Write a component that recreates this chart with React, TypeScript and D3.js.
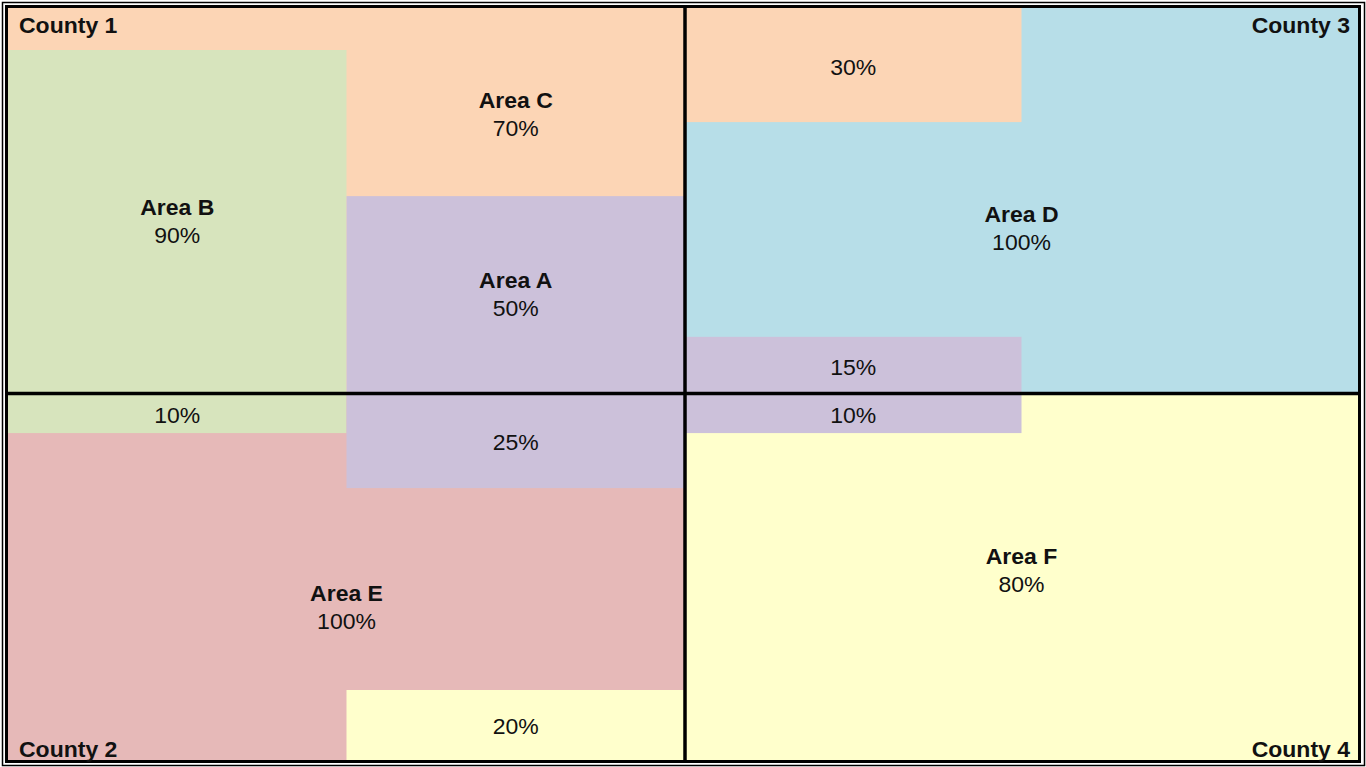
import React from "react";
import * as d3 from "d3";

// areas and their colours
const areaNames = ["Area A", "Area B", "Area C", "Area D", "Area E", "Area F"];
const areaColors = ["#CCC1DA", "#D7E4BD", "#FCD5B5", "#B7DEE8", "#E6B9B8", "#FFFFCC"];

// counties: quadrant order TL, BL, TR, BR
const countyNames = ["County 1", "County 2", "County 3", "County 4"];
const countyFill = ["Area C", "Area E", "Area D", "Area F"];

// stacked pieces inside a county (column 0 = left half, 1 = right half)
const segCounty = [0, 0, 1, 1, 1, 2, 2, 3];
const segColumn = [0, 1, 0, 1, 1, 0, 0, 0];
const segArea = ["Area B", "Area A", "Area B", "Area A", "Area F", "Area C", "Area A", "Area A"];
const segEdge = ["bottom", "bottom", "top", "top", "bottom", "top", "bottom", "top"];
const segShare = [0.891, 0.512, 0.108, 0.258, 0.191, 0.296, 0.147, 0.108];
const segPct = [90, 50, 10, 25, 20, 30, 15, 10];

// the named label of each area (county where it is shown + its share)
const namedArea = ["Area A", "Area B", "Area C", "Area D", "Area E", "Area F"];
const namedCounty = [0, 0, 0, 2, 1, 3];
const namedPct = [50, 90, 70, 100, 100, 80];

const W = 1366;
const H = 767;
const FS = 21.5;
const SX = 1.07;

export default function App() {
  const left = 8, right = 1358, top = 8, bottom = 760;
  const midX = 685, midY = 393.5;

  const quads = countyNames.map((name, i) => {
    const col = i < 2 ? 0 : 1;
    const row = i % 2;
    const x = d3.scaleLinear().domain([0, 1]).range(col === 0 ? [left, midX] : [midX, right]);
    const y = d3.scaleLinear().domain([0, 1]).range(row === 0 ? [top, midY] : [midY, bottom]);
    return { name, col, row, x, y };
  });

  const color = d3.scaleOrdinal<string, string>().domain(areaNames).range(areaColors);

  const segs = segCounty.map((c, i) => {
    const q = quads[c];
    const x0 = q.x(segColumn[i] * 0.5);
    const x1 = q.x(segColumn[i] * 0.5 + 0.5);
    const y0 = segEdge[i] === "top" ? q.y(0) : q.y(1 - segShare[i]);
    const y1 = segEdge[i] === "top" ? q.y(segShare[i]) : q.y(1);
    return { x0, x1, y0, y1, area: segArea[i], pct: segPct[i], county: c };
  });

  // label anchors for areas that fill the rest of a county
  const fillAnchor: Record<string, [number, number]> = {
    "Area C": [0.75, 0.276],
    "Area D": [0.5, 0.573],
    "Area E": [0.5, 0.583],
    "Area F": [0.5, 0.484],
  };

  const labels: { x: number; y: number; name?: string; pct: number }[] = [];
  segs.forEach((s) => {
    const k = namedArea.findIndex((a, j) => a === s.area && namedCounty[j] === s.county);
    labels.push({
      x: (s.x0 + s.x1) / 2,
      y: (s.y0 + s.y1) / 2 + (k >= 0 ? 0 : 2),
      name: k >= 0 ? namedArea[k] : undefined,
      pct: k >= 0 ? namedPct[k] : s.pct,
    });
  });
  namedArea.forEach((a, j) => {
    const q = quads[namedCounty[j]];
    if (countyFill[namedCounty[j]] !== a) return;
    const [fx, fy] = fillAnchor[a];
    labels.push({ x: q.x(fx), y: q.y(fy), name: a, pct: namedPct[j] });
  });

  const txt = (x: number, y: number, s: string, bold: boolean, anchor = "middle") => (
    <text
      key={s + x + y}
      transform={`translate(${x},${y}) scale(${SX},1)`}
      textAnchor={anchor}
      fontSize={FS}
      fontWeight={bold ? "bold" : "normal"}
      fill="#111"
    >
      {s}
    </text>
  );

  return (
    <svg
      width={W}
      height={H}
      style={{ position: "absolute", left: 0, top: 0, fontFamily: "Arial, 'Liberation Sans', sans-serif" }}
    >
      <rect width={W} height={H} fill="#fff" />
      {quads.map((q, i) => (
        <rect
          key={q.name}
          x={q.x(0)}
          y={q.y(0)}
          width={q.x(1) - q.x(0)}
          height={q.y(1) - q.y(0)}
          fill={color(countyFill[i])}
        />
      ))}
      {segs.map((s, i) => (
        <rect key={i} x={s.x0} y={s.y0} width={s.x1 - s.x0} height={s.y1 - s.y0} fill={color(s.area)} />
      ))}
      <line x1={midX} x2={midX} y1={top} y2={bottom} stroke="#000" strokeWidth={3.5} />
      <line x1={left} x2={right} y1={midY} y2={midY} stroke="#000" strokeWidth={3.5} />
      <rect x={6.5} y={6.5} width={1353} height={755} fill="none" stroke="#000" strokeWidth={3} />
      <rect x={2.5} y={2.5} width={1362} height={763} fill="none" stroke="#000" strokeWidth={1.5} />
      {labels.map((l) =>
        l.name ? (
          <g key={l.name}>
            {txt(l.x, l.y - 14 + 7.5, l.name, true)}
            {txt(l.x, l.y + 14 + 7.5, `${l.pct}%`, false)}
          </g>
        ) : (
          <g key={`${l.x}-${l.y}`}>{txt(l.x, l.y + 7.5, `${l.pct}%`, false)}</g>
        )
      )}
      {quads.map((q) =>
        txt(
          q.col === 0 ? 19 : 1350,
          q.row === 0 ? 33 : 757,
          q.name,
          true,
          q.col === 0 ? "start" : "end"
        )
      )}
    </svg>
  );
}
